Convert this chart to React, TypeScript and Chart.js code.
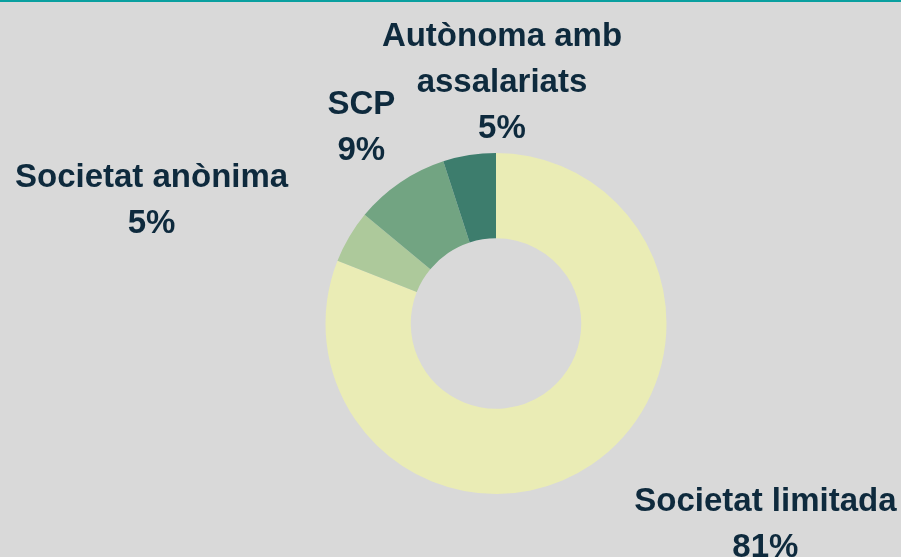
import React, { useEffect, useRef } from "react";
import { Chart, registerables } from "chart.js";

Chart.register(...registerables);

const categories: string[][] = [
  ["Societat limitada"],
  ["Societat anònima"],
  ["SCP"],
  ["Autònoma amb", "assalariats"],
];
const values: number[] = [81, 5, 9, 5];
const colors: string[] = ["#eaecb5", "#adc99b", "#72a482", "#3d7d6d"];

// label anchor offsets relative to the doughnut centre, in units of outer radius
const labelOffsets: [number, number][] = [
  [1.58, 1.1],
  [-2.02, -0.8],
  [-0.79, -1.23],
  [0.035, -1.63],
];

const labelPlugin = {
  id: "outsideLabels",
  afterDatasetsDraw(chart: any) {
    const meta = chart.getDatasetMeta(0);
    const ctx = chart.ctx;
    const first = meta.data[0];
    if (!first) return;
    const cx = first.x;
    const cy = first.y;
    const r = first.outerRadius;
    ctx.save();
    ctx.font = "bold 33px 'Liberation Sans', Arial, sans-serif";
    ctx.fillStyle = "#0e2a3d";
    ctx.textAlign = "center";
    ctx.textBaseline = "alphabetic";
    const lineH = 46;
    meta.data.forEach((_arc: any, i: number) => {
      const lines = [...categories[i], values[i] + "%"];
      const [ox, oy] = labelOffsets[i];
      const x = cx + ox * r;
      const y = cy + oy * r;
      lines.forEach((t, j) => ctx.fillText(t, x, y + j * lineH));
    });
    ctx.restore();
  },
};

export default function App() {
  const ref = useRef<HTMLCanvasElement | null>(null);
  useEffect(() => {
    if (!ref.current) return;
    const chart = new Chart(ref.current, {
      type: "doughnut",
      data: {
        labels: categories.map((c) => c.join(" ")),
        datasets: [
          {
            data: values,
            backgroundColor: colors,
            borderWidth: 0,
            hoverOffset: 0,
          },
        ],
      },
      options: {
        responsive: false,
        animation: false,
        cutout: "50%",
        layout: { padding: { top: 153, bottom: 63, left: 325.5, right: 234.5 } },
        plugins: {
          legend: { display: false },
          tooltip: { enabled: false },
        },
      },
      plugins: [labelPlugin],
    });
    return () => chart.destroy();
  }, []);
  return (
    <div
      style={{
        position: "fixed",
        left: 0,
        top: 0,
        width: 901,
        height: 557,
        background: "#d9d9d9",
        overflow: "hidden",
      }}
    >
      <canvas ref={ref} width={901} height={557} style={{ display: "block" }} />
      <div
        style={{
          position: "absolute",
          left: 0,
          top: 0,
          width: 901,
          height: 2,
          background: "#0aa0a0",
        }}
      />
    </div>
  );
}
